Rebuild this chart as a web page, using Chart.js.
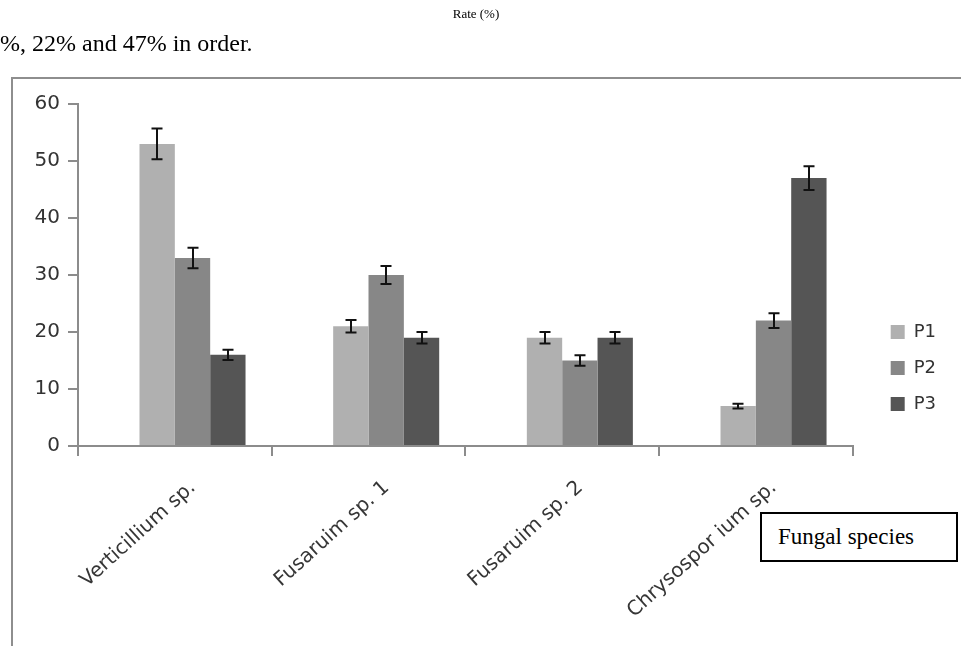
<!DOCTYPE html>
<html>
<head>
<meta charset="utf-8">
<script src="https://cdn.jsdelivr.net/npm/chart.js@4.4.1/dist/chart.umd.min.js"></script>
<style>
  html, body { margin: 0; padding: 0; background: #fff; }
  #page { position: relative; width: 961px; height: 646px; overflow: hidden; background: #fff; }
  #frame { position: absolute; left: 11px; top: 77px; width: 960px; height: 580px;
           border-left: 2px solid #8e8e8e; border-top: 2px solid #8e8e8e; }
  #chart { position: absolute; left: 0; top: 0; }
  .txt { position: absolute; font-family: 'Liberation Serif', 'Times New Roman', serif; color: #000; white-space: nowrap; }
  #rate { left: 0; width: 952px; top: 7px; text-align: center; font-size: 13px; line-height: 13px; }
  #sentence { left: 0; top: 31px; font-size: 24px; line-height: 24px; }
  #xtitle { left: 760px; top: 512px; width: 178px; height: 46px; border: 2px solid #000;
            font-size: 23px; line-height: 46px; padding-left: 16px; background: #fff; }
</style>
</head>
<body>
<div id="page">
  <div id="frame"></div>
  <canvas id="chart" width="961" height="646"></canvas>
  <div class="txt" id="rate">Rate (%)</div>
  <div class="txt" id="sentence">%, 22% and 47% in order.</div>
  <div class="txt" id="xtitle">Fungal species</div>
</div>
<script>
// Fungal species and the rate (%) found for each sampling point
const categories = ['Verticillium sp.', 'Fusaruim sp. 1', 'Fusaruim sp. 2', 'Chrysospor ium sp.'];
const seriesNames = ['P1', 'P2', 'P3'];
const p1 = [53, 21, 19, 7];
const p2 = [33, 30, 15, 22];
const p3 = [16, 19, 19, 47];
// standard error for each bar
const p1Err = [2.7, 1.1, 1.0, 0.4];
const p2Err = [1.8, 1.6, 0.9, 1.3];
const p3Err = [0.9, 1.0, 1.0, 2.1];
const yTicks = [0, 10, 20, 30, 40, 50, 60];

const colors = ['#b0b0b0', '#878787', '#555555'];
const values = [p1, p2, p3];
const errors = [p1Err, p2Err, p3Err];

// empty leading slot in each group: pushes the three bars half a bar to the right
const leadSlot = categories.map(() => null);

const datasets = [{ label: '', data: leadSlot, backgroundColor: 'rgba(0,0,0,0)', errors: null }];
seriesNames.forEach((name, i) => {
  datasets.push({
    label: name,
    data: values[i],
    errors: errors[i],
    backgroundColor: colors[i],
    borderWidth: 0
  });
});

const errorBars = {
  id: 'errorBars',
  afterDatasetsDraw(chart) {
    const ctx = chart.ctx;
    const y = chart.scales.y;
    ctx.save();
    ctx.strokeStyle = '#111';
    ctx.lineWidth = 2;
    chart.data.datasets.forEach((ds, di) => {
      if (!ds.errors) return;
      const meta = chart.getDatasetMeta(di);
      meta.data.forEach((bar, j) => {
        const v = ds.data[j], e = ds.errors[j];
        const x = Math.round(bar.x);
        const hi = y.getPixelForValue(v + e);
        const lo = y.getPixelForValue(v - e);
        const cap = 5.5;
        ctx.beginPath();
        ctx.moveTo(x, hi); ctx.lineTo(x, lo);
        ctx.moveTo(x - cap, hi); ctx.lineTo(x + cap, hi);
        ctx.moveTo(x - cap, lo); ctx.lineTo(x + cap, lo);
        ctx.stroke();
      });
    });
    ctx.restore();
  }
};

Chart.defaults.font.family = "'DejaVu Sans', sans-serif";

new Chart(document.getElementById('chart'), {
  type: 'bar',
  data: { labels: categories, datasets },
  options: {
    responsive: false,
    devicePixelRatio: 1,
    animation: false,
    events: [],
    layout: { padding: { top: 104, bottom: 14, left: 18, right: 15 } },
    datasets: { bar: { categoryPercentage: 0.73, barPercentage: 1.0 } },
    plugins: {
      tooltip: { enabled: false },
      legend: {
        position: 'right',
        align: 'center',
        labels: {
          filter: item => item.text !== '',
          boxWidth: 14,
          boxHeight: 14,
          padding: 18,
          color: '#333',
          font: { size: 18 }
        }
      }
    },
    scales: {
      x: {
        offset: true,
        grid: { display: true, offset: true, drawOnChartArea: false, drawTicks: true, tickLength: 10, color: '#8c8c8c', lineWidth: 2 },
        border: { display: true, color: '#8c8c8c', width: 2 },
        ticks: {
          autoSkip: false,
          minRotation: 42,
          maxRotation: 42,
          labelOffset: 18,
          padding: 20,
          color: '#363636',
          font: { size: 20 }
        },
        afterFit(s) { s.height = 186; }
      },
      y: {
        min: 0,
        max: 60,
        afterBuildTicks(s) { s.ticks = yTicks.map(v => ({ value: v })); },
        grid: { display: true, drawOnChartArea: false, drawTicks: true, tickLength: 10, color: '#8c8c8c', lineWidth: 2 },
        border: { display: true, color: '#8c8c8c', width: 2 },
        ticks: { padding: 8, color: '#333', font: { size: 20 } },
        afterFit(s) { s.width = 60; }
      },
      gap: {
        type: 'linear',
        position: 'right',
        display: true,
        grid: { display: false },
        border: { display: false },
        ticks: { display: false },
        afterFit(s) { s.width = 20; }
      }
    }
  },
  plugins: [errorBars]
});
</script>
</body>
</html>
